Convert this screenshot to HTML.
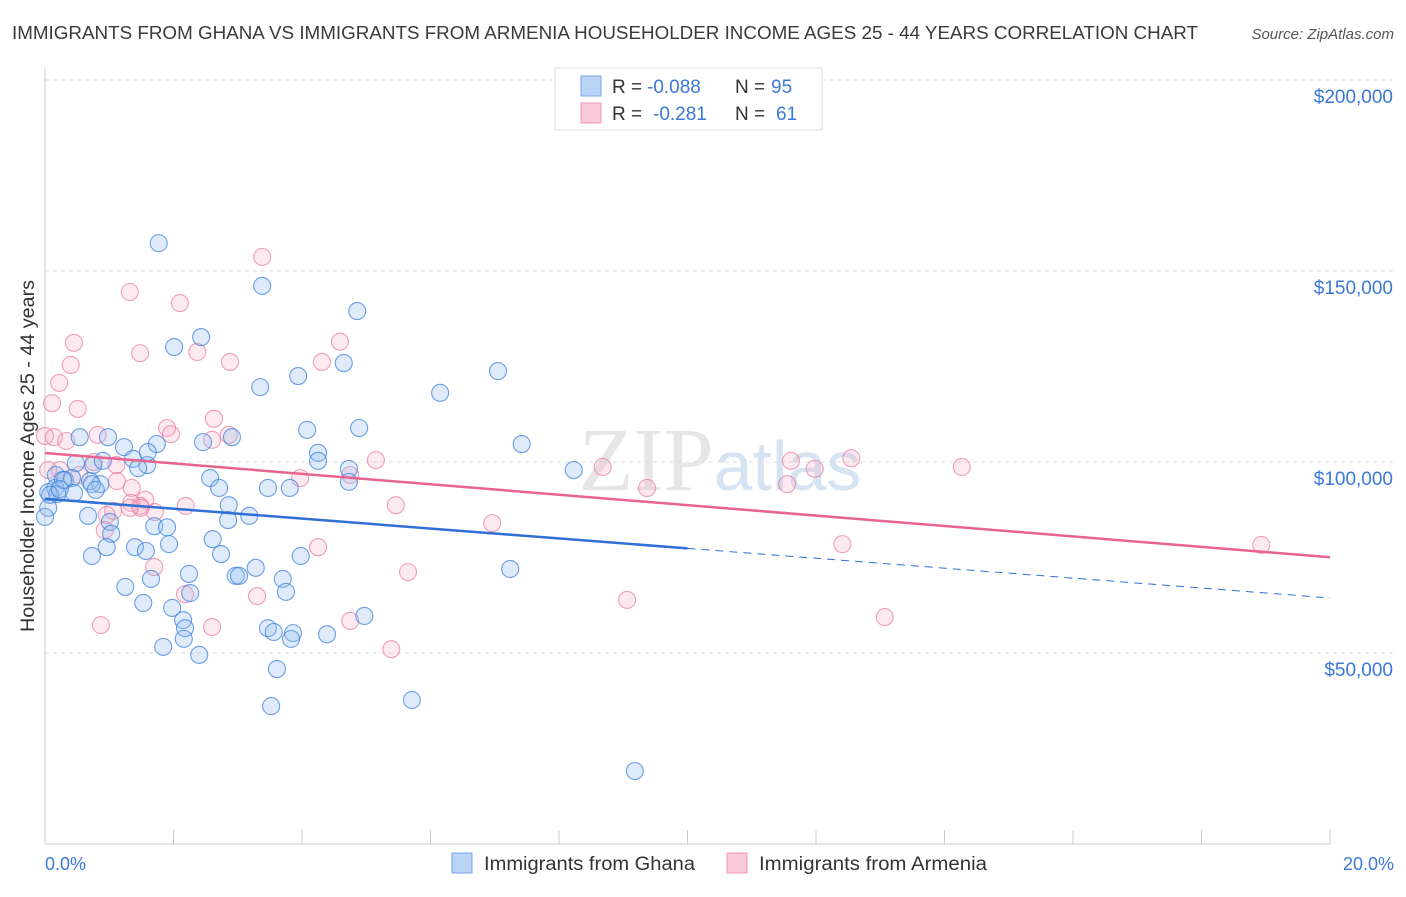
<!DOCTYPE html>
<html><head><meta charset="utf-8"><style>
body{margin:0;background:#fff;font-family:"Liberation Sans",sans-serif;}
</style></head><body>
<svg width="1406" height="892" xmlns="http://www.w3.org/2000/svg" font-family="Liberation Sans, sans-serif">
<text x="12" y="39" font-size="18" fill="#3a3a3a" textLength="1186" lengthAdjust="spacingAndGlyphs">IMMIGRANTS FROM GHANA VS IMMIGRANTS FROM ARMENIA HOUSEHOLDER INCOME AGES 25 - 44 YEARS CORRELATION CHART</text>
<text x="1394" y="39" font-size="15" fill="#555" font-style="italic" text-anchor="end">Source: ZipAtlas.com</text>
<text x="720" y="490" font-size="90" fill="#e6e6e6" text-anchor="middle" font-family="Liberation Serif, serif">ZIP<tspan fill="#d6e3f3" font-family="Liberation Sans, sans-serif" font-size="70">atlas</tspan></text>
<g id="grid"></g>
<line x1="45" y1="68" x2="45" y2="844" stroke="#ccc"/>
<line x1="45" y1="844" x2="1330" y2="844" stroke="#ccc"/>
<g id="ticks"></g>
<text x="34" y="456" font-size="19" fill="#333" text-anchor="middle" transform="rotate(-90 34 456)" textLength="352" lengthAdjust="spacingAndGlyphs">Householder Income Ages 25 - 44 years</text>
<text x="45" y="870" font-size="18" fill="#3b78d8">0.0%</text>
<text x="1394" y="870" font-size="18" fill="#3b78d8" text-anchor="end">20.0%</text>
<g id="pts"></g>
<g id="lines"></g>
<g>
<rect x="555" y="68" width="267" height="62" fill="#fff" stroke="#ddd"/>
<rect x="581" y="76" width="20" height="20" fill="#b9d3f5" stroke="#7aa6e6"/>
<rect x="581" y="103" width="20" height="20" fill="#fbc8d8" stroke="#ee9ab5"/>
<text x="612" y="93" font-size="19" fill="#333">R =</text>
<text x="647" y="93" font-size="19" fill="#3b78d8">-0.088</text>
<text x="735" y="93" font-size="19" fill="#333">N =</text>
<text x="771" y="93" font-size="19" fill="#3b78d8">95</text>
<text x="612" y="120" font-size="19" fill="#333">R =</text>
<text x="653" y="120" font-size="19" fill="#3b78d8">-0.281</text>
<text x="735" y="120" font-size="19" fill="#333">N =</text>
<text x="776" y="120" font-size="19" fill="#3b78d8">61</text>
</g>
<g>
<rect x="452" y="853" width="20" height="20" fill="#b9d3f5" stroke="#7aa6e6"/>
<text x="484" y="870" font-size="19" fill="#333" textLength="211" lengthAdjust="spacingAndGlyphs">Immigrants from Ghana</text>
<rect x="727" y="853" width="20" height="20" fill="#fbc8d8" stroke="#ee9ab5"/>
<text x="759" y="870" font-size="19" fill="#333" textLength="228" lengthAdjust="spacingAndGlyphs">Immigrants from Armenia</text>
</g>
</svg>
<script>
const yTicks=[50000,100000,150000,200000];
const yTickLabels=["$50,000","$100,000","$150,000","$200,000"];
const xTicks=[0,2,4,6,8,10,12,14,16,18,20];
const ghanaX=[1.77,3.38,4.86,2.43,2.01,4.65,3.94,3.35,7.05,6.15,0.98,1.23,0.54,1.74,2.46,2.91,4.08,4.89,4.25,4.25,7.42,1.59,1.60,8.23,1.37,0.48,0.75,0.90,1.45,0.17,0.31,0.42,0.70,0.86,0.16,0.05,0.19,0.45,0.73,0.05,0.67,1.01,2.57,2.71,3.47,3.81,4.73,4.73,2.86,3.18,2.85,1.70,1.90,1.03,0.73,0.96,1.40,1.57,1.93,2.61,2.74,2.24,3.28,3.70,1.65,1.25,2.97,3.02,2.26,3.75,7.24,3.98,1.98,1.53,2.15,2.18,2.16,1.84,2.40,3.47,3.56,3.86,3.83,4.39,4.97,3.61,3.52,5.71,9.18,0.0,0.08,0.28,0.79,0.23];
const ghanaY=[157.3,146.1,139.5,132.7,130.1,125.9,122.5,119.6,123.8,118.1,106.5,103.9,106.5,104.7,105.2,106.5,108.4,108.9,102.4,100.3,104.7,99.2,102.6,97.9,100.8,99.7,99.2,100.3,98.4,96.6,95.3,95.8,95.0,94.2,93.2,92.1,91.6,91.9,94.2,88.0,85.9,84.3,95.8,93.2,93.2,93.2,98.2,94.8,88.7,85.9,84.8,83.2,82.9,81.2,75.4,77.7,77.7,76.7,78.5,79.8,75.9,70.7,72.3,69.4,69.4,67.3,70.2,70.2,65.7,66.0,72.0,75.4,61.8,63.1,58.6,56.5,53.7,51.6,49.5,56.5,55.5,55.2,53.7,54.9,59.7,45.8,36.1,37.7,19.1,85.6,91.4,95.3,92.7,92.9];
const armeniaX=[3.38,1.32,2.10,0.45,2.37,1.48,4.59,4.31,2.88,0.40,0.22,0.11,0.51,1.90,1.96,0.0,0.14,0.33,0.82,2.60,2.86,2.63,0.23,0.76,1.11,0.53,1.12,1.35,1.56,1.71,1.48,2.19,1.34,1.06,0.96,0.93,1.49,1.32,4.75,5.15,3.97,5.46,6.96,8.68,9.37,11.61,11.55,11.98,12.55,14.27,12.41,18.93,1.70,4.25,2.18,3.30,5.65,9.06,4.75,2.60,0.87,5.39,13.07,0.05];
const armeniaY=[153.7,144.5,141.6,131.2,128.8,128.5,131.5,126.2,126.2,125.4,120.7,115.4,113.9,108.9,107.3,106.8,106.5,105.5,107.1,105.8,107.1,111.3,97.9,100.0,99.2,96.6,95.0,93.2,90.1,86.9,88.5,88.5,89.3,87.2,86.1,82.2,88.0,88.0,96.6,100.5,95.8,88.7,84.0,98.7,93.2,100.3,94.2,98.2,101.0,98.7,78.5,78.3,72.5,77.7,65.4,64.9,71.2,63.9,58.4,56.8,57.3,51.0,59.4,97.9];
const ns='http://www.w3.org/2000/svg';
const xs=p=>45+p*64.25, ys=v=>844-v*191/50000;
const grid=document.getElementById('grid');
yTicks.forEach((t,i)=>{
 const l=document.createElementNS(ns,'line');
 
 
 l.setAttribute('x1',45);l.setAttribute('x2',1394);l.setAttribute('y1',ys(t));l.setAttribute('y2',ys(t));
 l.setAttribute('stroke','#ddd');l.setAttribute('stroke-dasharray','4 4');grid.appendChild(l);
 const tx=document.createElementNS(ns,'text');
 
 
 tx.setAttribute('x',1393);tx.setAttribute('y',ys(t)+23);tx.setAttribute('text-anchor','end');
 tx.setAttribute('font-size','19');tx.setAttribute('fill','#3b78d8');tx.textContent=yTickLabels[i];grid.appendChild(tx);
});
const tk=document.getElementById('ticks');
xTicks.forEach(t=>{
 const l=document.createElementNS(ns,'line');
 
 
 l.setAttribute('x1',xs(t));l.setAttribute('x2',xs(t));l.setAttribute('y1',830);l.setAttribute('y2',844);
 l.setAttribute('stroke','#ccc');tk.appendChild(l);
});
const pts=document.getElementById('pts');
function dot(x,y,fill,stroke,name){
 const c=document.createElementNS(ns,'circle');
 
 
 c.setAttribute('cx',xs(x));c.setAttribute('cy',ys(y*1000));c.setAttribute('r',8.5);
 c.setAttribute('fill',fill);c.setAttribute('stroke',stroke);c.setAttribute('stroke-width','1.1');
 pts.appendChild(c);
}
armeniaX.forEach((x,i)=>dot(x,armeniaY[i],'rgba(248,170,195,0.25)','rgba(232,120,160,0.7)','armenia-point'));
ghanaX.forEach((x,i)=>dot(x,ghanaY[i],'rgba(150,190,240,0.3)','rgba(60,130,220,0.75)','ghana-point'));
function fit(X,Y){const n=X.length;let mx=0,my=0;X.forEach((v,i)=>{mx+=v;my+=Y[i];});mx/=n;my/=n;let a=0,b=0;X.forEach((v,i)=>{a+=(v-mx)*(Y[i]-my);b+=(v-mx)*(v-mx);});const s=a/b;return [s,my-s*mx];}
const lg=document.getElementById('lines');
function ln(x1,x2,f,col,dash,name){
 const l=document.createElementNS(ns,'line');
 
 
 l.setAttribute('x1',xs(x1));l.setAttribute('x2',xs(x2));
 l.setAttribute('y1',ys((f[1]+f[0]*x1)*1000));l.setAttribute('y2',ys((f[1]+f[0]*x2)*1000));
 l.setAttribute('stroke',col);l.setAttribute('stroke-width',dash?1:2.5);
 if(dash)l.setAttribute('stroke-dasharray','8 6');lg.appendChild(l);
}
const fg=fit(ghanaX,ghanaY), fa=fit(armeniaX,armeniaY);
ln(0,10,fg,'#2f6fd6',false,'ghana-trend-line');
ln(10,20,fg,'#2f6fd6',true,'ghana-trend-extension');
ln(0,20,fa,'#e8648f',false,'armenia-trend-line');
</script>
</body></html>
